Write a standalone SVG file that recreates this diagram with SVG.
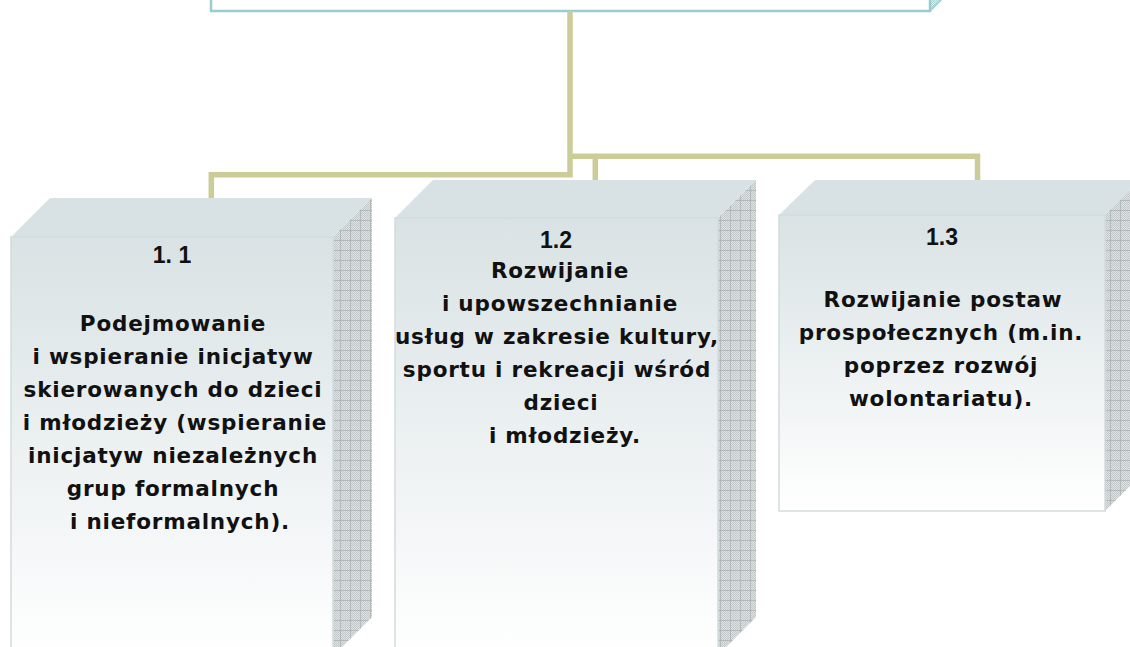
<svg xmlns="http://www.w3.org/2000/svg" width="1130" height="647" viewBox="0 0 1130 647">
<defs>
  <pattern id="check" width="2" height="2" patternUnits="userSpaceOnUse">
    <rect width="2" height="2" fill="#dde1e2"/>
    <rect width="1" height="1" fill="#c3c8c9"/>
    <rect x="1" y="1" width="1" height="1" fill="#c3c8c9"/>
  </pattern>
  <pattern id="grid" width="10" height="10" patternUnits="userSpaceOnUse">
    <path d="M0,0.5H10M0.5,0V10" stroke="#b4babb" stroke-width="1" fill="none"/>
  </pattern>
  <pattern id="tealcheck" width="2" height="2" patternUnits="userSpaceOnUse">
    <rect width="2" height="2" fill="#d6eeed"/>
    <rect width="1" height="1" fill="#a9d6d4"/>
    <rect x="1" y="1" width="1" height="1" fill="#a9d6d4"/>
  </pattern>
  <linearGradient id="front" x1="0" y1="0" x2="0" y2="1">
    <stop offset="0" stop-color="#d9e2e4"/>
    <stop offset="1" stop-color="#ffffff"/>
  </linearGradient>
  <style>
    .top{fill:#d8e1e3;}
    .front{fill:url(#front);stroke:#d2dcde;stroke-width:1.5;}
    .side{fill:url(#check);}
    .sidegrid{fill:url(#grid);}
    .num{font-family:"Liberation Sans",Arial,sans-serif;font-weight:bold;font-size:23px;fill:#111;text-anchor:middle;}
    .txt{font-family:"DejaVu Sans","Liberation Sans",sans-serif;font-weight:bold;font-size:21.5px;letter-spacing:0.8px;fill:#111;text-anchor:middle;}
    .conn{fill:none;stroke:#cccc99;stroke-width:5.5;stroke-linejoin:miter;}
  </style>
</defs>
<rect width="1130" height="647" fill="#ffffff"/>

<g id="top-node">
  <polygon points="930,11 930,-2 943,-2" fill="url(#tealcheck)"/>
  <rect x="211" y="-20" width="719" height="31" fill="#ffffff" stroke="#99cccc" stroke-width="2.5"/>
  <line x1="930" y1="11" x2="942" y2="-1" stroke="#99cccc" stroke-width="1.5"/>
</g>

<g id="connectors">
  <path class="conn" d="M211.3,199 V174.7 H570 V11"/>
  <path class="conn" d="M572,156.3 H977.5 V181"/>
  <path class="conn" d="M595.3,156.3 V181"/>
</g>

<g id="node-1-1">
  <polygon class="top" points="11,237 50,198 372,198 333,237"/>
  <polygon class="side" points="333,237 372,198 372,617 333,656"/>
  <polygon class="sidegrid" points="333,237 372,198 372,617 333,656"/>
  <rect class="front" x="11" y="237" width="322" height="420"/>
  <text class="num" x="172" y="263">1. 1</text>
  <text class="txt" x="173" y="331">Podejmowanie</text>
  <text class="txt" x="173" y="364">i wspieranie inicjatyw</text>
  <text class="txt" x="173" y="397">skierowanych do dzieci</text>
  <text class="txt" x="175" y="430">i młodzieży (wspieranie</text>
  <text class="txt" x="173" y="463">inicjatyw niezależnych</text>
  <text class="txt" x="173" y="496">grup formalnych</text>
  <text class="txt" x="180" y="529">i nieformalnych).</text>
</g>

<g id="node-1-2">
  <polygon class="top" points="395,218 433,180 756,180 718,218"/>
  <polygon class="side" points="718,218 756,180 756,617 718,655"/>
  <polygon class="sidegrid" points="718,218 756,180 756,617 718,655"/>
  <rect class="front" x="395" y="218" width="323" height="440"/>
  <text class="num" x="556" y="248">1.2</text>
  <text class="txt" x="560" y="278">Rozwijanie</text>
  <text class="txt" x="560" y="311">i upowszechnianie</text>
  <text class="txt" x="557" y="344">usług w zakresie kultury,</text>
  <text class="txt" x="557" y="377">sportu i rekreacji wśród</text>
  <text class="txt" x="561" y="410">dzieci</text>
  <text class="txt" x="565" y="443">i młodzieży.</text>
</g>

<g id="node-1-3">
  <polygon class="top" points="779,215 815,180 1141,180 1105,215"/>
  <polygon class="side" points="1105,215 1141,180 1141,475 1105,511"/>
  <polygon class="sidegrid" points="1105,215 1141,180 1141,475 1105,511"/>
  <rect class="front" x="779" y="215" width="326" height="296"/>
  <text class="num" x="942" y="245">1.3</text>
  <text class="txt" x="943" y="307">Rozwijanie postaw</text>
  <text class="txt" x="941" y="340">prospołecznych (m.in.</text>
  <text class="txt" x="941" y="373">poprzez rozwój</text>
  <text class="txt" x="941" y="406">wolontariatu).</text>
</g>
</svg>
